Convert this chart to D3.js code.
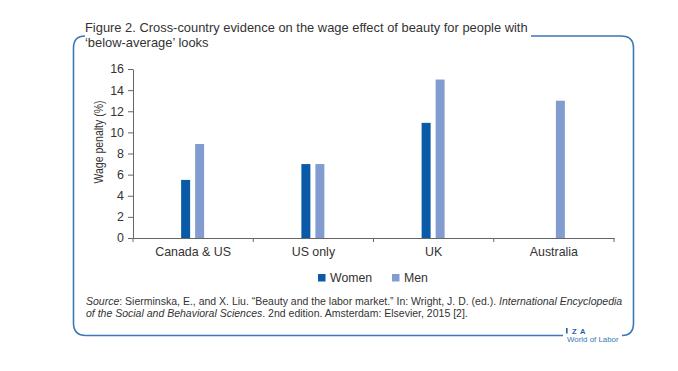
<html>
  <head>
    <meta charset="utf-8">
    <style>
      body { margin: 0; background: #fff; }
      svg text { font-family: "Liberation Sans", Arial, sans-serif; fill: #333; }
      .axis path, .axis line { stroke: #666; }
      .frame { fill: none; stroke: #3a78b8; stroke-width: 1.6px; }
    </style>
  </head>
<body>
  <svg width="678" height="371"></svg>
  <script src="https://d3js.org/d3.v7.min.js"></script>
  <script>
    var categories = ["Canada & US", "US only", "UK", "Australia"];
    var series = ["Women", "Men"];
    var women = [5.5, 7.0, 10.9, null];
    var men = [8.9, 7.0, 15.0, 13.0];
    var yTicks = [0, 2, 4, 6, 8, 10, 12, 14, 16];
    var colors = {Women: "#0a5aa8", Men: "#829ccf"};

    var svg = d3.select("svg");
    var margin = {top: 69, left: 133};
    var width = 481, height = 169;
    var g = svg.append("g").attr("transform", "translate(" + margin.left + "," + margin.top + ")");

    var x = d3.scaleBand().domain(categories).range([0, width]);
    var x1 = d3.scaleBand().domain(series).range([-12, 11]).paddingInner(5 / 14);
    var y = d3.scaleLinear().domain([0, 16]).range([height, 0]);

    var rows = categories.map(function(c, i) {
      return {cat: c, values: [{s: "Women", v: women[i]}, {s: "Men", v: men[i]}]};
    });

    // y axis
    var ya = g.append("g").attr("class", "axis")
      .call(d3.axisLeft(y).tickValues(yTicks).tickSize(5).tickPadding(4).tickSizeOuter(0));
    ya.selectAll("text").style("font-size", "12.4px");

    // x axis: line + boundary ticks
    var xa = g.append("g").attr("class", "axis")
      .attr("transform", "translate(0," + height + ")")
      .call(d3.axisBottom(x).tickSize(0).tickPadding(9).tickSizeOuter(0));
    xa.selectAll("text").style("font-size", "12.4px");
    var bounds = categories.map(function(c) { return x(c); }).concat([width]);
    xa.selectAll(".bound").data(bounds).enter().append("line")
      .attr("class", "bound")
      .attr("x1", function(d) { return d; }).attr("x2", function(d) { return d; })
      .attr("y1", 0).attr("y2", 4).attr("stroke", "#666");

    // bars
    var grp = g.selectAll(".grp").data(rows).enter().append("g")
      .attr("transform", function(d) { return "translate(" + (x(d.cat) + x.bandwidth() / 2) + ",0)"; });
    grp.selectAll("rect").data(function(d) { return d.values.filter(function(v) { return v.v != null; }); })
      .enter().append("rect")
      .attr("x", function(d) { return x1(d.s); })
      .attr("width", x1.bandwidth())
      .attr("y", function(d) { return y(d.v); })
      .attr("height", function(d) { return height - y(d.v); })
      .attr("fill", function(d) { return colors[d.s]; });

    // y label
    svg.append("text")
      .attr("transform", "translate(102.5,142) rotate(-90)")
      .attr("text-anchor", "middle")
      .attr("textLength", 83)
      .attr("lengthAdjust", "spacingAndGlyphs")
      .style("font-size", "13px")
      .text("Wage penalty (%)");

    // legend
    var leg = svg.append("g").attr("transform", "translate(318,274)");
    var legX = {Women: 0, Men: 74};
    series.forEach(function(s) {
      var l = leg.append("g").attr("transform", "translate(" + legX[s] + ",0)");
      l.append("rect").attr("width", 7.5).attr("height", 7.5).attr("fill", colors[s]);
      l.append("text").attr("x", 12).attr("y", 8).style("font-size", "12.3px").text(s);
    });

    // title
    var title = svg.append("text").attr("x", 85).attr("y", 31.5).style("font-size", "12.9px");
    title.append("tspan").text("Figure 2. Cross-country evidence on the wage effect of beauty for people with");
    title.append("tspan").attr("x", 85).attr("dy", 15).text("\u2018below-average\u2019 looks");

    // source
    var src = svg.append("text").attr("x", 86).attr("y", 305).style("font-size", "10.5px");
    src.append("tspan").style("font-style", "italic").text("Source");
    src.append("tspan").text(": Sierminska, E., and X. Liu. \u201cBeauty and the labor market.\u201d In: Wright, J. D. (ed.). ");
    src.append("tspan").style("font-style", "italic").text("International Encyclopedia");
    var src2 = svg.append("text").attr("x", 86).attr("y", 317).style("font-size", "10.5px");
    src2.append("tspan").style("font-style", "italic").text("of the Social and Behavioral Sciences");
    src2.append("tspan").text(". 2nd edition. Amsterdam: Elsevier, 2015 [2].");

    // frame
    svg.append("path").attr("class", "frame")
      .attr("d", "M85,36 Q73.5,36 73.5,48 L73.5,323 Q73.5,335.5 86,335.5 L563,335.5");
    svg.append("path").attr("class", "frame")
      .attr("d", "M531,36 L621,36 Q633.5,36 633.5,48 L633.5,323 Q633.5,335.5 622,335.5");

    // logo
    svg.append("rect").attr("x", 566).attr("y", 328).attr("width", 1.6).attr("height", 5.5).attr("fill", "#1f5fa8");
    svg.append("text").attr("x", 572).attr("y", 333.5).style("font-size", "7.5px").style("font-weight", "bold")
      .style("fill", "#1f5fa8").style("letter-spacing", "3.5px").text("ZA");
    svg.append("text").attr("x", 567).attr("y", 342).style("font-size", "7.9px")
      .style("fill", "#3a78b8").text("World of Labor");
  </script>
</body>
</html>
